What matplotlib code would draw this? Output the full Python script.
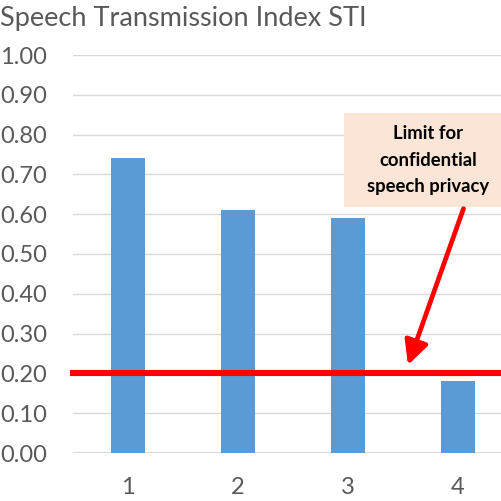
import matplotlib.pyplot as plt
from matplotlib.patches import Rectangle

# datos
categorias = [1, 2, 3, 4]
sti = [0.74, 0.61, 0.59, 0.18]
limite = 0.20
ticks_y = [0.0, 0.1, 0.2, 0.3, 0.4, 0.5, 0.6, 0.7, 0.8, 0.9, 1.0]
titulo = "Speech Transmission Index STI"
nota = "Limit for\nconfidential\nspeech privacy"

plt.rcParams['font.family'] = ['Lato', 'DejaVu Sans']

fig = plt.figure(figsize=(5.02, 5.01), dpi=100)
# el eje sobresale por la derecha, como en el original recortado
ax = fig.add_axes([73 / 502, 48 / 501, 440 / 502, 398 / 501])

ax.bar(categorias, sti, width=0.315, color='#5B9BD5', zorder=2)
ax.axhline(limite, color='#FF0000', lw=4.4, zorder=3, clip_on=False)

ax.set_xlim(0.5, 4.5)
ax.set_ylim(0, 1)
ax.set_yticks(ticks_y)
ax.set_yticklabels([f"{t:.2f}" for t in ticks_y])
ax.set_xticks(categorias)
ax.set_xticklabels([str(c) for c in categorias])
ax.tick_params(axis='y', length=0, pad=18.5, labelsize=17, labelcolor='#595959')
ax.tick_params(axis='x', length=0, pad=17, labelsize=17, labelcolor='#595959')
ax.grid(axis='y', color='#D9D9D9', lw=1, zorder=0)
for s in ax.spines.values():
    s.set_visible(False)
ax.axhline(0, color='#D9D9D9', lw=1.6, zorder=1)

fig.text(0.0, 0.948, titulo, fontsize=19.5, color='#595959', ha='left', va='baseline')

# caja de la nota
ax.add_patch(Rectangle((2.964, 0.618), 1.6, 0.236, facecolor='#FBE5D6',
                       edgecolor='none', zorder=4, clip_on=False))
ax.text(3.73, 0.736, nota, ha='center', va='center', fontsize=13.3,
        fontweight='bold', linespacing=1.66, zorder=5)

ax.annotate('', xy=(3.545, 0.221), xytext=(4.05, 0.614),
            arrowprops=dict(arrowstyle='-|>', color='#FF0000', lw=3.4,
                            mutation_scale=36, shrinkA=0, shrinkB=0),
            zorder=6)

fig.savefig('out.png', dpi=100)
